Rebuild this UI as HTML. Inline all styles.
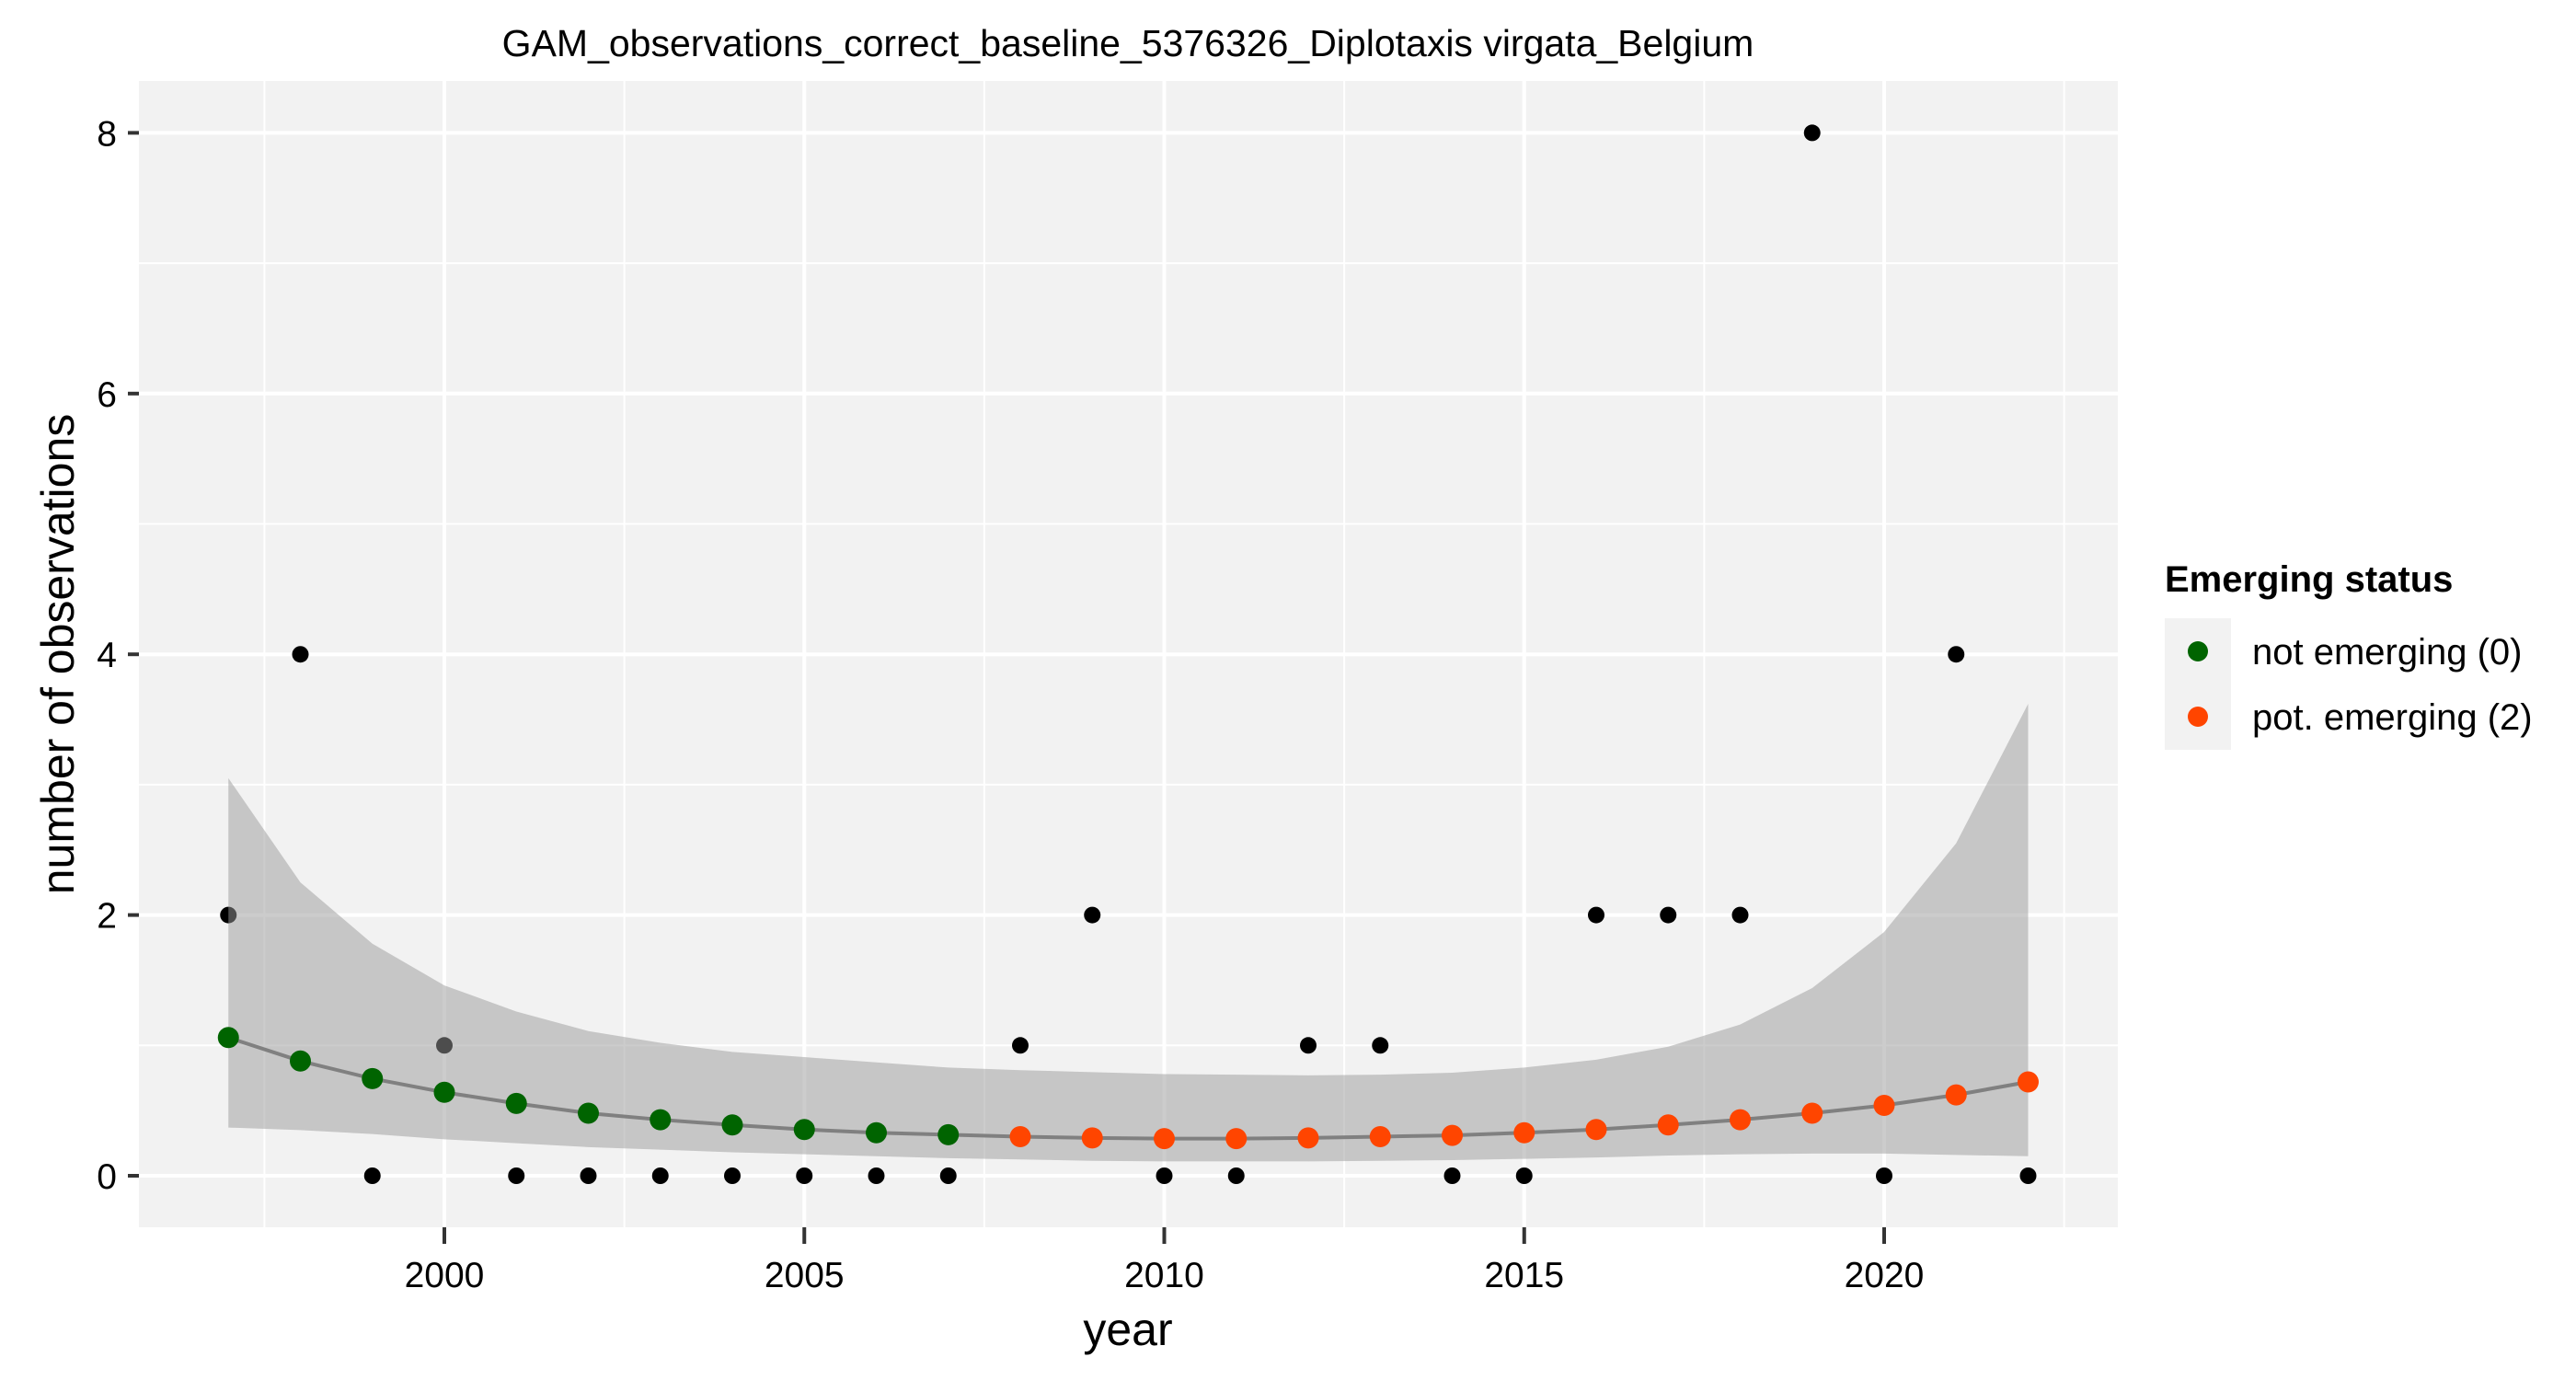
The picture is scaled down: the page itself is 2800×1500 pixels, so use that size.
<!DOCTYPE html>
<html><head><meta charset="utf-8"><style>
html,body{margin:0;padding:0;background:#fff;}
svg{display:block;font-family:"Liberation Sans",Arial,sans-serif;}
</style></head><body>
<svg id="chart" width="2800" height="1500" viewBox="0 0 2800 1500" xmlns="http://www.w3.org/2000/svg">
<text x="1226" y="61" font-size="41" text-anchor="middle">GAM_observations_correct_baseline_5376326_Diplotaxis virgata_Belgium</text>
<rect x="151" y="88" width="2151" height="1246" fill="#F2F2F2"/>
<g id="grid"></g>
<g id="marks"></g>
<g id="axes"></g>
<text x="1226" y="1462" font-size="50" text-anchor="middle">year</text>
<text transform="translate(80,711) rotate(-90)" font-size="50" text-anchor="middle">number of observations</text>
<g>
<text x="2353" y="643" font-size="40" font-weight="bold">Emerging status</text>
<rect x="2353" y="672" width="72" height="143" fill="#F2F2F2"/>
<circle cx="2389" cy="708" r="11" fill="#006400"/>
<circle cx="2389" cy="779" r="11" fill="#FF4500"/>
<text x="2448" y="722" font-size="40">not emerging (0)</text>
<text x="2448" y="793" font-size="40">pot. emerging (2)</text>
</g>
</svg>
<script>
const years = [1997,1998,1999,2000,2001,2002,2003,2004,2005,2006,2007,2008,2009,2010,2011,2012,2013,2014,2015,2016,2017,2018,2019,2020,2021,2022];
const observed = [2,4,0,1,0,0,0,0,0,0,0,1,2,0,0,1,1,0,0,2,2,2,8,0,4,0];
const fitted = [1.06,0.88,0.745,0.64,0.555,0.48,0.43,0.39,0.355,0.33,0.315,0.30,0.29,0.285,0.285,0.29,0.30,0.31,0.33,0.355,0.39,0.43,0.48,0.54,0.62,0.72];
const upper = [3.05,2.25,1.78,1.46,1.26,1.11,1.02,0.95,0.91,0.87,0.83,0.81,0.795,0.78,0.775,0.77,0.775,0.79,0.83,0.89,0.99,1.16,1.44,1.87,2.55,3.62];
const lower = [0.37,0.35,0.32,0.28,0.25,0.22,0.2,0.18,0.165,0.15,0.135,0.125,0.115,0.11,0.11,0.11,0.115,0.12,0.13,0.14,0.155,0.165,0.17,0.17,0.16,0.15];
const status = [0,0,0,0,0,0,0,0,0,0,0,2,2,2,2,2,2,2,2,2,2,2,2,2,2,2];
const xTicks = [2000,2005,2010,2015,2020];
const xMinor = [1997.5,2002.5,2007.5,2012.5,2017.5,2022.5];
const yTicks = [0,2,4,6,8];
const yMinor = [1,3,5,7];

const NS = "http://www.w3.org/2000/svg";
const X0 = 151, X1 = 2302, Y0 = 88, Y1 = 1334;
function xs(v){ return 483 + (v - 2000) * 78.25; }
function ys(v){ return 1278 - v * 141.7; }
function mk(tag, attrs, parent){
  const e = document.createElementNS(NS, tag);
  for (const k in attrs) e.setAttribute(k, attrs[k]);
  parent.appendChild(e);
  return e;
}
const grid = document.getElementById('grid');
const marks = document.getElementById('marks');
const axes = document.getElementById('axes');

yMinor.forEach(v => {
  const l = mk('line', {x1:X0, x2:X1, y1:ys(v), y2:ys(v), stroke:'#fff', 'stroke-width':2}, grid);
  
  
});
xMinor.forEach(v => {
  const l = mk('line', {x1:xs(v), x2:xs(v), y1:Y0, y2:Y1, stroke:'#fff', 'stroke-width':2}, grid);
  
  
});
yTicks.forEach(v => {
  const l = mk('line', {x1:X0, x2:X1, y1:ys(v), y2:ys(v), stroke:'#fff', 'stroke-width':4}, grid);
  
  
  const t = mk('line', {x1:X0-12, x2:X0, y1:ys(v), y2:ys(v), stroke:'#333', 'stroke-width':4}, axes);
  
  
  const tx = mk('text', {x:X0-24, y:ys(v)+14, 'font-size':39, 'text-anchor':'end', fill:'#000'}, axes);
  tx.textContent = v;
  
  
});
xTicks.forEach(v => {
  const l = mk('line', {x1:xs(v), x2:xs(v), y1:Y0, y2:Y1, stroke:'#fff', 'stroke-width':4}, grid);
  
  
  const t = mk('line', {x1:xs(v), x2:xs(v), y1:Y1, y2:Y1+18, stroke:'#333', 'stroke-width':4}, axes);
  
  
  const tx = mk('text', {x:xs(v), y:Y1+65, 'font-size':39, 'text-anchor':'middle', fill:'#000'}, axes);
  tx.textContent = v;
  
  
});

years.forEach((yr, i) => {
  const c = mk('circle', {cx:xs(yr), cy:ys(observed[i]), r:9, fill:'#000'}, marks);
  
  
});
let d = '';
years.forEach((yr, i) => { d += (i ? 'L' : 'M') + xs(yr) + ',' + ys(upper[i]); });
for (let i = years.length - 1; i >= 0; i--) d += 'L' + xs(years[i]) + ',' + ys(lower[i]);
d += 'Z';
const rib = mk('path', {d:d, fill:'#999999', 'fill-opacity':0.5}, marks);


const pts = years.map((yr, i) => xs(yr) + ',' + ys(fitted[i])).join(' ');
const line = mk('polyline', {points:pts, fill:'none', stroke:'#808080', 'stroke-width':4}, marks);


years.forEach((yr, i) => {
  const c = mk('circle', {cx:xs(yr), cy:ys(fitted[i]), r:11.5, fill: status[i] === 0 ? '#006400' : '#FF4500'}, marks);
  
  
});
</script>
</body></html>
